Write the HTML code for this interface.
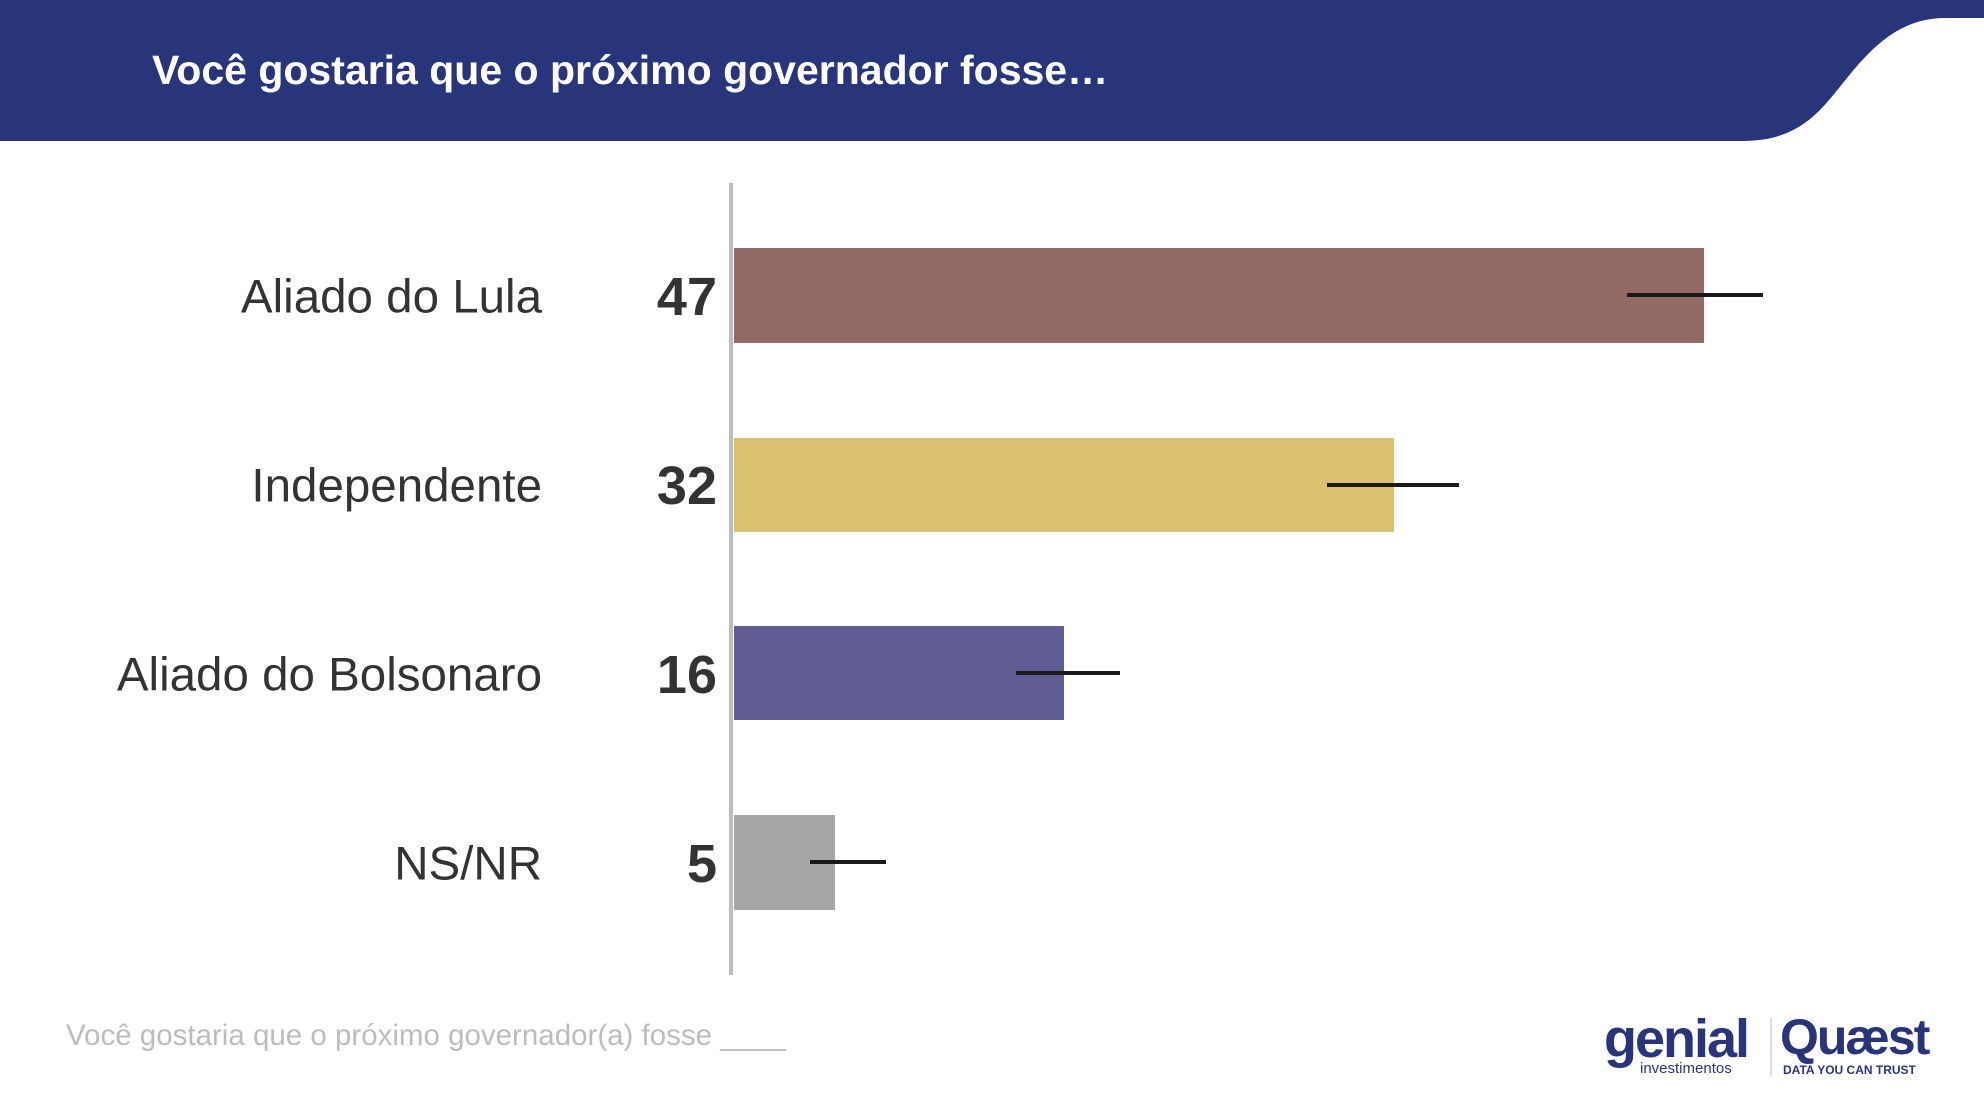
<!DOCTYPE html>
<html><head><meta charset="utf-8"><style>
body{margin:0;width:1984px;height:1110px;background:#fff;position:relative;overflow:hidden;font-family:"Liberation Sans",sans-serif}
.a{position:absolute}
.lab{position:absolute;right:1442px;font-size:47.5px;color:#333;font-weight:300;line-height:1;transform:translateY(-50%)}
.val{position:absolute;right:1267px;font-size:54px;color:#333;font-weight:bold;line-height:1;transform:translateY(-50%)}
.bar{position:absolute;left:734px}
.err{position:absolute;height:4px;background:#1a1a1a}
</style></head><body>
<svg class="a" style="left:0;top:0" width="1984" height="145">
<path d="M0 0 H1984 V18 H1945 C1880 18 1850 80 1820 110 C1795 135 1770 141 1740 141 H0 Z" fill="#28357a"/>
</svg>
<div class="a" style="left:152px;top:47px;font-size:41px;font-weight:bold;color:#fff">Você gostaria que o próximo governador fosse…</div>
<div class="a" style="left:729px;top:183px;width:4px;height:792px;background:#bdbdbd"></div>

<div class="lab" style="top:297px">Aliado do Lula</div>
<div class="val" style="top:297px">47</div>
<div class="bar" style="top:248px;width:970px;height:95px;background:#936a64"></div>
<div class="err" style="left:1627px;width:136px;top:293px"></div>

<div class="lab" style="top:486px">Independente</div>
<div class="val" style="top:486px">32</div>
<div class="bar" style="top:438px;width:660px;height:94px;background:#dcc070"></div>
<div class="err" style="left:1327px;width:132px;top:483px"></div>

<div class="lab" style="top:675px">Aliado do Bolsonaro</div>
<div class="val" style="top:675px">16</div>
<div class="bar" style="top:626px;width:330px;height:94px;background:#605d94"></div>
<div class="err" style="left:1016px;width:104px;top:671px"></div>

<div class="lab" style="top:864px">NS/NR</div>
<div class="val" style="top:864px">5</div>
<div class="bar" style="top:815px;width:101px;height:95px;background:#a6a6a6"></div>
<div class="err" style="left:810px;width:76px;top:860px"></div>

<div class="a" style="left:66px;top:1019px;font-size:29.5px;color:#bcbcbc;font-weight:300">Você gostaria que o próximo governador(a) fosse ____</div>

<div class="a" style="left:1604px;top:1012px;font-size:54px;font-weight:bold;color:#28357a;letter-spacing:-2px;line-height:1">genial</div>
<div class="a" style="left:1640px;top:1061px;font-size:15px;color:#28357a;line-height:1">investimentos</div>
<div class="a" style="left:1770px;top:1018px;width:2px;height:58px;background:#ddd"></div>
<div class="a" style="left:1780px;top:1012px;font-size:50px;font-weight:bold;color:#28357a;letter-spacing:-2px;line-height:1">Quæst</div>
<div class="a" style="left:1783px;top:1064px;font-size:12px;font-weight:bold;color:#28357a;line-height:1">DATA YOU CAN TRUST</div>
</body></html>
